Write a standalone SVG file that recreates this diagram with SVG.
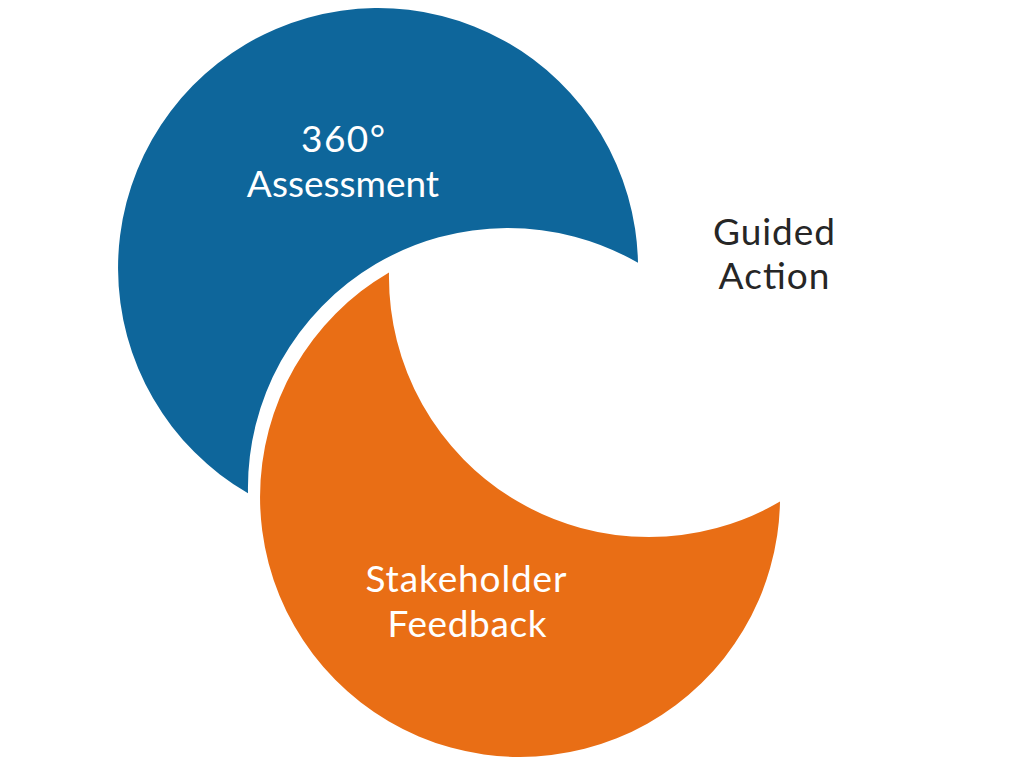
<svg xmlns="http://www.w3.org/2000/svg" width="1024" height="768" viewBox="0 0 1024 768">
<style>
.lbl{font-family:Lato,"Open Sans","Liberation Sans",sans-serif;font-size:37px;text-anchor:middle}
.w{fill:#ffffff}
.d{fill:#262626}
</style>
<rect width="1024" height="768" fill="#ffffff"/>
<g id="assessment">
<path d="M638,262.8 A260,260 0 1 0 248,493.2 A260,260 0 0 1 638,262.8 Z" fill="#0e669b"/>
<text class="lbl w" x="343" y="152" textLength="84">360°</text>
<text class="lbl w" x="343" y="197">Assessment</text>
</g>
<g id="feedback">
<path d="M389,272.4 A260,260 0 1 0 780,501.6 A260,260 0 0 1 389,272.4 Z" fill="#e96e15"/>
<text class="lbl w" x="466" y="592" textLength="201">Stakeholder</text>
<text class="lbl w" x="467" y="637" textLength="159">Feedback</text>
</g>
<g id="action">
<text class="lbl d" x="774" y="245" textLength="122">Guided</text>
<text class="lbl d" x="774" y="289" textLength="111">Action</text>
</g>
<g id="connectors"></g>
</svg>
